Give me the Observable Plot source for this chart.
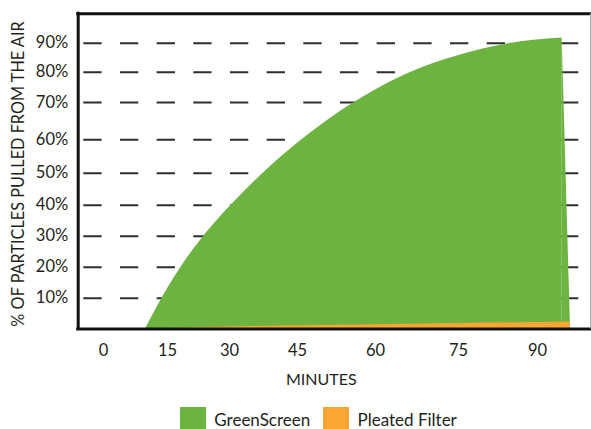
<!DOCTYPE html>
<html><head><meta charset="utf-8">
<script src="https://cdn.jsdelivr.net/npm/d3@7"></script>
<script src="https://cdn.jsdelivr.net/npm/@observablehq/plot@0.6"></script>
<style>
html,body{margin:0;padding:0;background:#fff;}
body{width:591px;height:429px;overflow:hidden;font-family:Lato,sans-serif;color:#231f20;}
#legend{display:flex;align-items:center;margin-top:8.7px;padding-left:180px;font-size:17px;height:26px;}
.sw{width:25.7px;height:26px;display:inline-block;flex:none;}
.lb{margin-left:8.6px;margin-right:13px;white-space:nowrap;}
</style></head><body>
<div id="chart"></div>
<div id="legend"></div>
<script>
// ---- data ----
const minuteTicks = [0, 15, 30, 45, 60, 75, 90];
const percentTicks = [10, 20, 30, 40, 50, 60, 70, 80, 90];
const xTitle = "MINUTES";
const yTitle = "% OF PARTICLES PULLED FROM THE AIR";
const seriesNames = ["GreenScreen", "Pleated Filter"];
const seriesColors = ["#6db33f", "#faa634"];

const greenMinutes = [9.84, 13.95, 18.15, 24.44, 30.6, 38.38, 46.15, 55.38, 64.52, 70.48, 76.71, 82.97, 89.24, 94.66, 96.23];
const greenPercent = [0, 10.55, 19.77, 31.1, 40.4, 51.2, 60.3, 69.5, 78.4, 82.97, 86.6, 89.3, 91.0, 91.8, 0];
const pleatedMinutes = [10.1, 34.6, 57.1, 75.4, 96.23];
const pleatedPercent = [0, 0.8, 1.3, 1.8, 2.3];

// axis break points (the original's tick spacing is uneven)
const xBreaks = [-6, ...minuteTicks, 100];
const yBreaks = [0, ...percentTicks, 100];

const green = greenMinutes.map((m, i) => ({m, p: greenPercent[i]}));
const rising = green.slice(0, -1);
const drop = green.slice(-2);
const pleated = pleatedMinutes.map((m, i) => ({m, p: pleatedPercent[i]}));

const H = 398;
const plot = Plot.plot({
  width: 591, height: H,
  marginLeft: 77.7, marginRight: 1, marginTop: 13.3, marginBottom: H - 328.5,
  style: {fontFamily: "Lato, sans-serif", color: "#231f20", background: "white", overflow: "visible"},
  x: {type: "linear", domain: xBreaks, range: [77.7, 103, 167, 229, 297, 375, 458, 537, 590]},
  y: {type: "linear", domain: yBreaks, range: [328.5, 297.7, 266.7, 235.7, 204.7, 172.7, 139.2, 102, 71.7, 42.7, 13.3]},
  marks: [
    Plot.ruleY(percentTicks, {y: d => d, stroke: "#2e2e2e", strokeWidth: 2, strokeDasharray: "18.3 18.37", insetLeft: 5.6, insetRight: 10}),
    Plot.areaY(rising, {x: "m", y: "p", fill: seriesColors[0], curve: "monotone-x"}),
    Plot.areaY(drop, {x: "m", y: "p", fill: seriesColors[0]}),
    Plot.areaY(pleated, {x: "m", y: "p", fill: seriesColors[1], curve: "monotone-x"}),
    Plot.ruleX([xBreaks[0]], {x: d => d, stroke: "#111", strokeWidth: 3, strokeLinecap: "square"}),
    Plot.ruleY([yBreaks[0], yBreaks[yBreaks.length - 1]], {y: d => d, stroke: "#111", strokeWidth: 3, strokeLinecap: "square"}),
    Plot.ruleX([xBreaks[xBreaks.length - 1]], {x: d => d, stroke: "#aaa", strokeWidth: 1}),
    Plot.axisY(percentTicks, {tickSize: 0, tickPadding: 10, tickFormat: d => d + "%", fontSize: 16.5, label: null}),
    Plot.axisX(minuteTicks, {tickSize: 0, tickPadding: 15, tickFormat: d => String(d), fontSize: 16.5, label: null}),
    Plot.text([xTitle], {text: d => d, frameAnchor: "bottom", lineAnchor: "middle", textAnchor: "middle", dx: -13, dy: 50.9, fontSize: 16}),
    Plot.text([yTitle], {text: d => d, frameAnchor: "left", lineAnchor: "middle", textAnchor: "middle", rotate: -90, dx: -59, dy: 2.6, fontSize: 16.3})
  ]
});
document.getElementById("chart").appendChild(plot);

const legend = document.getElementById("legend");
seriesNames.forEach((name, i) => {
  const sw = document.createElement("span");
  sw.className = "sw";
  sw.style.background = seriesColors[i];
  const lb = document.createElement("span");
  lb.className = "lb";
  lb.textContent = name;
  legend.appendChild(sw);
  legend.appendChild(lb);
});
</script>
</body></html>
